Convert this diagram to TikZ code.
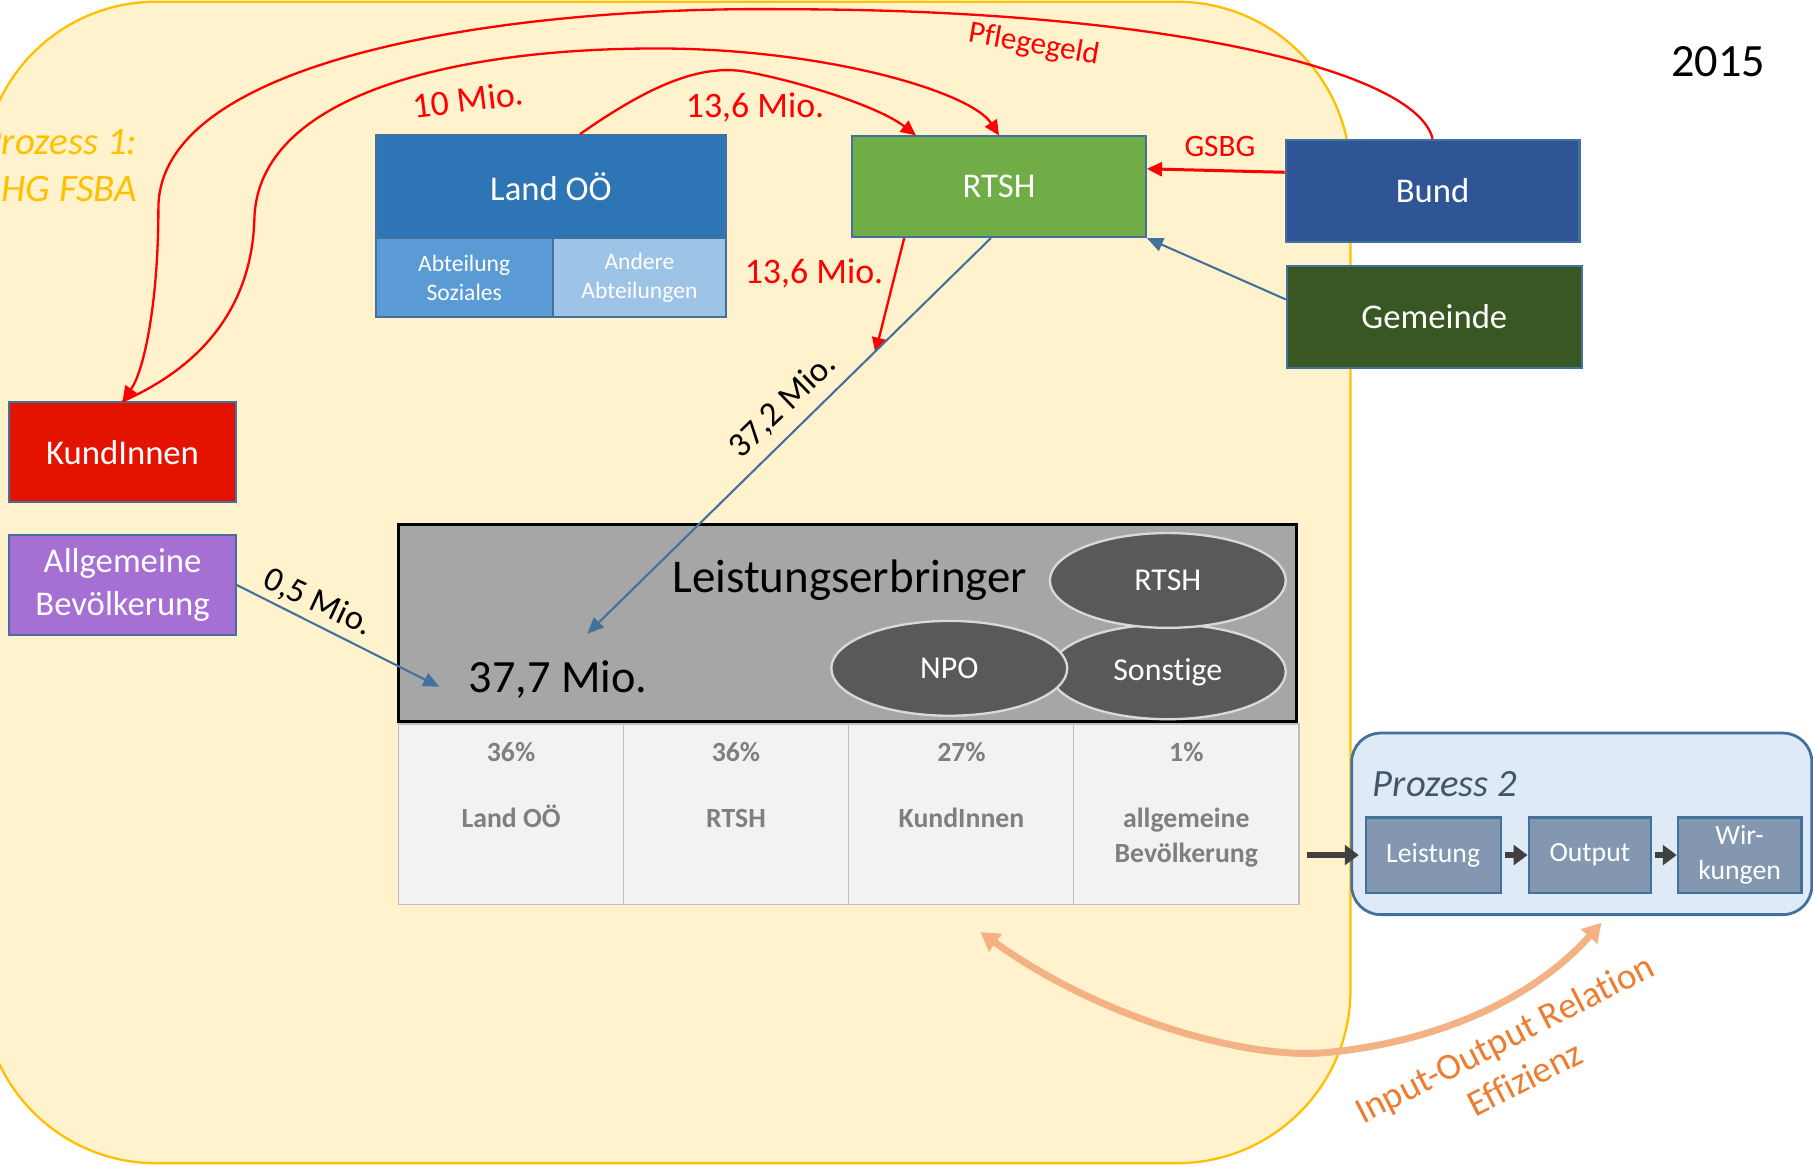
\documentclass[tikz,border=0pt]{standalone}
\usepackage{fontspec}
\setmainfont{Carlito}[Ligatures=NoCommon]
\usetikzlibrary{shapes.geometric,arrows.meta}
\definecolor{yfill}{HTML}{FFF2CC}
\definecolor{ygold}{HTML}{FFC000}
\definecolor{landc}{HTML}{2E75B6}
\definecolor{sozc}{HTML}{5B9BD5}
\definecolor{andc}{HTML}{9DC3E6}
\definecolor{rtshc}{HTML}{70AD47}
\definecolor{bundc}{HTML}{2F5597}
\definecolor{gemc}{HTML}{385723}
\definecolor{kundc}{HTML}{E41300}
\definecolor{allgc}{HTML}{A66FD3}
\definecolor{bordc}{HTML}{41719C}
\definecolor{legray}{HTML}{A6A6A6}
\definecolor{elc}{HTML}{595959}
\definecolor{elb}{HTML}{D9D9D9}
\definecolor{cellc}{HTML}{F2F2F2}
\definecolor{cellb}{HTML}{BFBFBF}
\definecolor{celltx}{HTML}{7F7F7F}
\definecolor{p2fill}{HTML}{DEEBF7}
\definecolor{p2tx}{HTML}{44546A}
\definecolor{subc}{HTML}{8497B0}
\definecolor{darkc}{HTML}{404040}
\definecolor{orlight}{HTML}{F4B183}
\definecolor{ortx}{HTML}{ED7D31}
\begin{document}
\begin{tikzpicture}[x=0.5pt,y=-0.5pt,
  box/.style={draw=bordc,line width=0.9pt,inner sep=0pt,text=white,align=center,font=\fontsize{15}{18.3}\selectfont},
  subbox/.style={box,font=\fontsize{10.2}{12.5}\selectfont},
  redarr/.style={draw=red,line width=1pt,-{Triangle[length=6.5pt,width=6pt]}},
  bluearr/.style={draw=bordc,line width=0.9pt,-{Triangle[length=7pt,width=6pt]}},
  darkarr/.style={draw=darkc,line width=2.5pt,-{Triangle[length=6pt,width=8.5pt]}},
  redlbl/.style={text=red,inner sep=0pt,font=\fontsize{15.5}{18.9}\selectfont},
  blklbl/.style={text=black,inner sep=0pt,font=\fontsize{15}{18.3}\selectfont},
  ell/.style={ellipse,draw=elb,line width=1pt,fill=elc,text=white,inner sep=0pt,minimum width=102pt,minimum height=41pt,font=\fontsize{13.8}{16.8}\selectfont},
  cell/.style={draw=cellb,line width=0.6pt,fill=cellc,minimum width=97.5pt,minimum height=78pt,inner sep=0pt},
  celltxt/.style={text=celltx,inner sep=0pt,font=\bfseries\fontsize{12}{15}\selectfont},
  pbox/.style={box,fill=subc,minimum height=32.5pt,font=\fontsize{12}{15}\selectfont},
  p1txt/.style={text=ygold,inner sep=0pt,font=\itshape\fontsize{16.8}{20.5}\selectfont},
]
\useasboundingbox (0,0) rectangle (1568,1008);
\fill[white] (0,0) rectangle (1568,1008);
% Prozess 1 area
\draw[fill=yfill,draw=ygold,line width=1pt,rounded corners=75pt] (-15,1.5) rectangle (1168,1006);
\node[p1txt,anchor=base east] (p1a) at (119,134) {Prozess 1:};
\node[p1txt,anchor=base east] (p1b) at (119,174.5) {HG FSBA};
\node[anchor=base,inner sep=0pt,font=\fontsize{20}{24}\selectfont] (year) at (1486,66) {2015};

% boxes
\node[box,fill=landc,minimum width=151.5pt,minimum height=44.5pt] (land) at (476.5,161.5) {Land OÖ};
\node[subbox,fill=sozc,minimum width=76.5pt,minimum height=34pt] (soz) at (401.5,240) {Abteilung\\Soziales};
\node[subbox,fill=andc,minimum width=75pt,minimum height=34pt] (andere) at (553,240) {Andere\\Abteilungen};
\node[box,fill=rtshc,minimum width=127pt,minimum height=43.5pt] (rtsh) at (864,161.5) {RTSH};
\node[box,fill=bundc,minimum width=127pt,minimum height=44pt] (bund) at (1239,165) {Bund};
\node[box,fill=gemc,minimum width=127.5pt,minimum height=44pt] (gem) at (1240.5,274) {Gemeinde};
\node[box,fill=kundc,minimum width=98pt,minimum height=43pt] (kund) at (106,391) {KundInnen};
\node[box,fill=allgc,minimum width=98pt,minimum height=43pt] (allg) at (106,506) {Allgemeine\\Bevölkerung};

% Leistungserbringer
\node[draw=black,line width=1.3pt,fill=legray,minimum width=388pt,minimum height=85pt,inner sep=0pt] (le) at (733,539) {};
\node[anchor=base,inner sep=0pt,font=\fontsize{20.3}{24}\selectfont] (letitle) at (735,512) {Leistungserbringer};
\node[anchor=base west,inner sep=0pt,font=\fontsize{20}{24}\selectfont] (lesum) at (405,599) {37,7 Mio.};
\node[ell] (esons) at (1010,581) {Sonstige};
\node[ell] (ertsh) at (1010,502) {RTSH};
\node[ell] (enpo) at (821,578) {NPO};

% table
\node[cell] (c1) at (442,704) {};
\node[cell] (c2) at (636.5,704) {};
\node[cell] (c3) at (831.5,704) {};
\node[cell] (c4) at (1026,704) {};
\node[celltxt,anchor=base] (q1) at (442,659) {36\%};
\node[celltxt,anchor=base] (q2) at (636.5,659) {36\%};
\node[celltxt,anchor=base] (q3) at (831.5,659) {27\%};
\node[celltxt,anchor=base] (q4) at (1026,659) {1\%};
\node[celltxt,anchor=base] (n1) at (442,716) {Land OÖ};
\node[celltxt,anchor=base] (n2) at (636.5,716) {RTSH};
\node[celltxt,anchor=base] (n3) at (831.5,716) {KundInnen};
\node[celltxt,anchor=base] (n4a) at (1026,716) {allgemeine};
\node[celltxt,anchor=base] (n4b) at (1026,745.5) {Bevölkerung};

% Prozess 2
\node[draw=bordc,line width=1.2pt,fill=p2fill,rounded corners=12.5pt,minimum width=199pt,minimum height=78.5pt,inner sep=0pt] (p2) at (1368,712.5) {};
\node[anchor=base west,text=p2tx,inner sep=0pt,font=\itshape\fontsize{16.7}{20.4}\selectfont] (p2t) at (1187,689) {Prozess 2};
\node[pbox,minimum width=58.5pt] (leist) at (1239.5,739.5) {Leistung};
\node[pbox,minimum width=53pt] (outp) at (1375,739.5) {Output};
\node[pbox,minimum width=53.5pt] (wirk) at (1504.5,739.5) {Wir-\\kungen};

\draw[darkarr,shorten <=3pt,shorten >=2.5pt] (c4.east |- leist.west) -- (leist.west);
\draw[darkarr,shorten <=1.5pt] (leist.east) -- (outp.west);
\draw[darkarr,shorten <=1pt] (outp.east) -- (wirk.west);

% coordinates
\coordinate (t372) at (508,548);
\coordinate (t05) at (380,594);
\coordinate (t136) at (757,305);
\coordinate (ioL) at (848,806);
\coordinate (ioR) at (1385,798);

% red connectors
\draw[redarr] (bund.north) .. controls (1225,60) and (1000,8) .. (680,8)
  .. controls (440,5) and (137,50) .. (137,180)
  .. controls (137,260) and (125,320) .. (kund.north);
\draw[redarr] (kund.north) .. controls (190,310) and (218,250) .. (220,190)
  .. controls (222,80) and (400,40) .. (580,42)
  .. controls (720,44) and (840,80) .. (rtsh.north);
\draw[redarr] ([xshift=12.5pt]land.north) .. controls (560,75) and (605,55) .. (645,62)
  .. controls (690,70) and (760,92) .. ([xshift=28pt]rtsh.north west);
\draw[redarr,line width=1.3pt] ([yshift=8pt]bund.west) -- ([yshift=7.75pt]rtsh.east);
\draw[redarr] ([xshift=-41pt]rtsh.south) -- (t136);

% blue connectors
\draw[bluearr] ([xshift=-3.5pt]rtsh.south) -- (t372);
\draw[bluearr] (allg.east) -- (t05);
\draw[bluearr] ([yshift=7.5pt]gem.west) -- (rtsh.south east);

% labels
\node[redlbl,rotate=7] (l10) at (405,86) {10 Mio.};
\node[redlbl,anchor=base] (l136a) at (653,102) {13,6 Mio.};
\node[redlbl,anchor=base] (l136b) at (704,245) {13,6 Mio.};
\node[redlbl,font=\fontsize{13.5}{16.5}\selectfont,rotate=-10] (lpfl) at (894,39) {Pflegegeld};
\node[redlbl,font=\fontsize{13.5}{16.5}\selectfont,anchor=base] (lgsbg) at (1055,135) {GSBG};
\node[blklbl,rotate=44] (l372) at (677,351) {37,2 Mio.};
\node[blklbl,rotate=-25] (l05) at (275,521) {0,5 Mio.};

% Input-Output arrow
\draw[draw=orlight,line width=3pt,{Triangle[length=8pt,width=9pt]}-{Triangle[length=8pt,width=9pt]}]
  (ioL) .. controls (950,880) and (1080,918) .. (1150,910)
  .. controls (1250,900) and (1330,860) .. (ioR);
\node[text=ortx,align=center,rotate=27,inner sep=0pt,font=\fontsize{16}{19.5}\selectfont] (iol) at (1310,915) {Input-Output Relation\\Effizienz};
\end{tikzpicture}
\end{document}
